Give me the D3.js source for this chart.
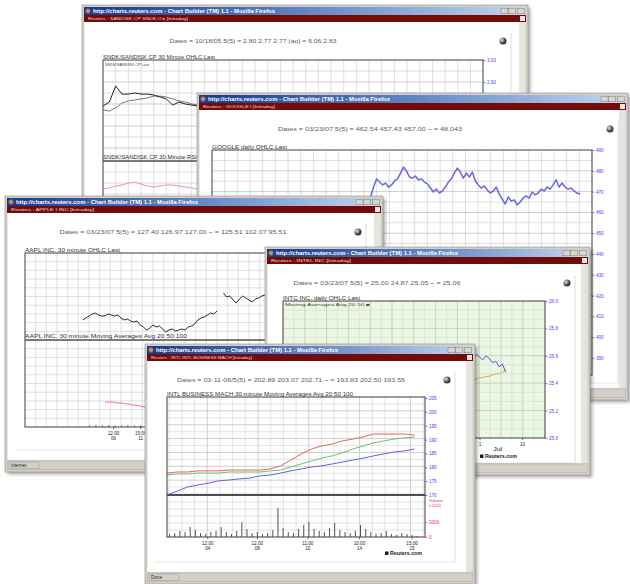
<!DOCTYPE html>
<html>
<head>
<meta charset="utf-8">
<script src="https://cdn.jsdelivr.net/npm/d3@7"></script>
<style>
body { margin: 0; background: #fff; }
svg { display: block; font-family: "Liberation Sans", Arial, sans-serif; }
</style>
</head>
<body>
<svg id="chart" width="630" height="584"></svg>
<script>
const titleText = "http://charts.reuters.com - Chart Builder (TM) 1.1 - Mozilla Firefox";

// SANDISK window (back)
const sndkPriceTicks = [3.0, 2.9, 2.8, 2.7, 2.6];
const sndkLast = [2.791, 2.809, 2.882, 2.845, 2.845, 2.850, 2.845, 2.845, 2.841, 2.832, 2.823, 2.795, 2.809, 2.800, 2.795, 2.791, 2.786, 2.782, 2.777];
const sndkAvg = [2.773, 2.768, 2.782, 2.805, 2.814, 2.818, 2.823, 2.827, 2.836, 2.836, 2.832, 2.823, 2.814, 2.809, 2.800, 2.795, 2.795, 2.791, 2.791];
const sndkRsi = [72, 73, 75, 76, 78, 79, 77, 75, 74, 75, 76, 76, 75, 74, 73, 72, 71];
const sndkRsiTicks = [100, 70, 30, 0];

// GOOGLE window
const googPriceTicks = [490, 480, 470, 460, 450, 440, 430, 420, 410, 400, 390];
const googStart = 53;
const googLast = [467.4, 472.2, 476.1, 474.6, 473.2, 474.1, 472.2, 473.2, 475.1, 476.1,
  478.9, 481.8, 479.9, 477.0, 476.5, 477.5, 475.6, 476.1, 474.6, 473.7,
  471.7, 469.8, 471.2, 469.3, 470.3, 472.2, 474.6, 476.1, 478.9, 481.3,
  479.4, 476.5, 478.9, 477.0, 479.4, 475.1, 473.2, 471.7, 472.7, 470.8,
  469.3, 470.3, 472.2, 468.8, 466.4, 464.0, 467.4, 465.5, 466.0, 463.6,
  465.0, 466.9, 467.9, 466.9, 469.8, 468.4, 469.3, 471.2, 470.3, 472.2,
  471.2, 473.2, 475.6, 472.2, 474.1, 472.2, 471.2, 471.7, 470.3, 469.3, 468.8];

// APPLE window
const aaplStart = 18;
const aaplLast = [93.3, 93.5, 93.7, 93.9, 94.0, 93.8, 93.7, 93.7, 93.9, 93.8, 93.7, 93.8, 93.5, 93.3, 93.4,
  93.2, 93.1, 93.2, 92.8, 92.6, 92.3, 92.5, 92.8, 92.6, 92.7, 92.4, 92.1, 92.3, 92.4, 92.2,
  92.3, 92.4, 92.3, 92.6, 92.7, 92.9, 93.3, 93.5, 93.6, 93.8, 94.0, 93.9, 94.2, null,
  96.0, 95.6, 95.7, 95.3, 95.0, 95.4, 95.7, 95.5, 95.3, 95.1, 95.4, 95.5, 95.7, 95.8, 95.9];
const aaplAvgStart = 25;
const aaplAvg = [85.1, 85.1, 85.1, 85.05, 85.0, 85.0, 84.95, 84.9, 84.85, 84.8, 84.75, 84.7, 84.6, 84.5, 84.45, 84.4];
const aaplTickIdx = [27.5, 36];
const aaplTickTime = ["12:00", "15:00"];
const aaplTickDay = ["06", "11"];

// INTEL window
const intcPriceTicks = [26.0, 25.8, 25.6, 25.4, 25.2, 25.0];
const intcStart = 48;
const intcLast = [25.53, 25.55, 25.57, 25.55, 25.58, 25.56, 25.58, 25.55, 25.58, 25.60, 25.58, 25.61, 25.59, 25.57, 25.60, 25.58, 25.55, 25.56, 25.52, 25.54, 25.48];
const intcAvgStart = 40;
const intcAvg = [25.34, 25.34, 25.34, 25.35, 25.35, 25.36, 25.37, 25.37, 25.37, 25.38, 25.38, 25.39, 25.39, 25.39, 25.40,
  25.41, 25.42, 25.42, 25.42, 25.43, 25.44, 25.44, 25.45, 25.45, 25.46, 25.47, 25.47, 25.48, 25.50];
const intcTickIdx = [60, 73];
const intcTickDay = ["1", "10"];

// IBM window (front)
const ibmPriceTicks = [205, 200, 195, 190, 185, 180, 175, 170];
const ibmAvg20 = [177.9, 178.3, 178.3, 178.7, 178.7, 178.7, 179.0, 179.0, 179.0, 179.0, 179.4, 180.5, 182.6, 184.8, 186.6, 187.7, 188.4, 189.5, 190.2, 190.9, 192.0, 192.0, 192.0, 192.0, 191.6];
const ibmAvg50 = [177.2, 177.6, 177.6, 177.9, 177.9, 177.9, 178.3, 178.3, 178.3, 178.3, 178.7, 179.0, 180.1, 181.2, 182.3, 183.3, 184.1, 185.2, 186.6, 187.7, 188.8, 189.5, 190.2, 190.6, 190.9];
const ibmAvg100 = [170.0, 171.4, 172.9, 173.6, 174.3, 175.1, 175.4, 175.8, 176.1, 176.9, 177.2, 177.9, 178.7, 179.4, 180.1, 180.5, 181.2, 181.9, 182.6, 183.3, 184.1, 184.8, 185.5, 185.9, 186.6];
const ibmVolume = [400, 530, 800, 670, 1330, 930, 530, 400, 670, 800, 1330, 670, 400, 800, 2000, 1070, 530, 670, 400, 530,
  930, 3870, 1200, 670, 530, 1070, 1600, 2000, 1070, 800, 670, 1200, 1870, 930, 670, 530, 800, 1600, 1070, 670,
  400, 530, 800, 400, 270, 530, 400, 270, 130, 0];
const ibmVolTicks = [2000, 0];
const ibmTickIdx = [3.9, 8.7, 13.6, 18.6, 23.7];
const ibmTickTime = ["12:00", "12:00", "11:00", "10:00", "15:00"];
const ibmTickDay = ["04", "08", "10", "14", "15"];

const svg = d3.select("#chart");
const defs = svg.append("defs");
defs.append("filter").attr("id", "soft").attr("x", "-5%").attr("y", "-5%").attr("width", "115%").attr("height", "115%")
  .append("feGaussianBlur").attr("stdDeviation", 1.8);
const tg = defs.append("linearGradient").attr("id", "titleGrad");
tg.append("stop").attr("offset", "0%").attr("stop-color", "#17398a");
tg.append("stop").attr("offset", "50%").attr("stop-color", "#5f86c4");
tg.append("stop").attr("offset", "100%").attr("stop-color", "#c4d6ef");
const gg = defs.append("radialGradient").attr("id", "globeGrad").attr("cx", "35%").attr("cy", "35%");
gg.append("stop").attr("offset", "0%").attr("stop-color", "#e8e8e8");
gg.append("stop").attr("offset", "100%").attr("stop-color", "#3a3a3a");

function label(g, x, y, str, len, size = 4.8, color = "#333") {
  const t = g.append("text").attr("x", x).attr("y", y).attr("font-size", size).attr("fill", color).text(str);
  if (len) t.attr("textLength", len).attr("lengthAdjust", "spacingAndGlyphs");
  return t;
}

function drawWindow(w) {
  // soft shadow
  svg.append("rect").attr("x", w.x + 2.5).attr("y", w.y + 2.5).attr("width", w.w).attr("height", w.h)
    .attr("fill", "#000").attr("opacity", 0.3).attr("filter", "url(#soft)");
  const g = svg.append("g").attr("transform", `translate(${w.x},${w.y})`);
  g.append("rect").attr("width", w.w).attr("height", w.h).attr("fill", "#d4d0c8")
    .attr("stroke", "#8c8c8c").attr("stroke-width", 0.6);
  const bodyBottom = w.status != null ? w.h - 12 : w.h - 3;
  g.append("rect").attr("x", 2.5).attr("y", 17).attr("width", w.w - 11).attr("height", bodyBottom - 17).attr("fill", "#fff");
  g.append("rect").attr("x", w.w - 8.5).attr("y", 17).attr("width", 6).attr("height", bodyBottom - 17).attr("fill", "#e6e4de");

  // title bar
  g.append("rect").attr("x", 2).attr("y", 2).attr("width", w.w - 4).attr("height", 8).attr("fill", "url(#titleGrad)");
  g.append("circle").attr("cx", 6).attr("cy", 6).attr("r", 2.4).attr("fill", "#e98b2a").attr("stroke", "#3b5fb5").attr("stroke-width", 0.8);
  label(g, 11, 8.2, titleText, 182, 5, "#fff").attr("font-weight", "bold");
  [27, 19.5, 10.5].forEach(off => g.append("rect").attr("x", w.w - off).attr("y", 3.2).attr("width", 7).attr("height", 5.6)
    .attr("fill", "#d8d5ce").attr("stroke", "#6b6b6b").attr("stroke-width", 0.4));

  // red site menu
  g.append("rect").attr("x", 2).attr("y", 10).attr("width", w.w - 4).attr("height", 7).attr("fill", "#740b0b");
  label(g, 6, 15.2, w.menu, w.menuLen, 4.4, "#f2d8d8");
  g.append("rect").attr("x", w.w - 8).attr("y", 11).attr("width", 5).attr("height", 5).attr("fill", "#f2e6e6");

  // quote line and globe
  label(g, w.datesX - w.datesLen / 2, 38, w.dates, w.datesLen, 5, "#5a5a72");
  g.append("circle").attr("cx", w.globeX).attr("cy", 36).attr("r", 3.5).attr("fill", "url(#globeGrad)");
  g.append("line").attr("x1", w.globeX + 8).attr("x2", w.globeX + 8).attr("y1", 28).attr("y2", w.dotY || bodyBottom)
    .attr("stroke", "#c8c8c8").attr("stroke-width", 0.6);
  if (w.dotY) {
    g.append("line").attr("x1", 12).attr("x2", w.globeX + 8).attr("y1", w.dotY).attr("y2", w.dotY)
      .attr("stroke", "#b4b4b4").attr("stroke-width", 0.6).attr("stroke-dasharray", "1,1");
  }
  if (w.status != null) {
    g.append("rect").attr("x", 2.5).attr("y", w.h - 11).attr("width", w.w - 5).attr("height", 8.5).attr("fill", "#d4d0c8")
      .attr("stroke", "#a8a49c").attr("stroke-width", 0.4);
    if (w.status) {
      g.append("rect").attr("x", 4).attr("y", w.h - 10).attr("width", 30).attr("height", 6.5)
        .attr("fill", "none").attr("stroke", "#888").attr("stroke-width", 0.4);
      label(g, 6, w.h - 5, w.status, null, 4.6, "#222");
    }
  }
  return g;
}

function pane(g, o) {
  const x = d3.scaleLinear().domain(o.xDomain).range([o.x0, o.x1]);
  const y = d3.scaleLinear().domain(o.yDomain).range([o.y1, o.y0]);
  g.append("rect").attr("x", o.x0).attr("y", o.y0).attr("width", o.x1 - o.x0).attr("height", o.y1 - o.y0).attr("fill", o.bg || "#fff");
  const minor = o.minor || "#c4c4c4", major = o.major || "#a2a2a2";
  const isMajor = (i, m, off) => m && (((i - off) % m) + m) % m === 0;
  const vs = d3.range(o.vStart || o.x0 + o.vStep, o.x1 - 0.5, o.vStep);
  g.append("g").selectAll("line").data(vs).join("line")
    .attr("x1", d => d).attr("x2", d => d).attr("y1", o.y0).attr("y2", o.y1)
    .attr("stroke", (d, i) => isMajor(i, o.vMajor, o.vOff || 0) ? major : minor)
    .attr("stroke-width", 0.55);
  const hs = d3.range(o.y0 + o.hStep, o.y1 - 0.5, o.hStep);
  g.append("g").selectAll("line").data(hs).join("line")
    .attr("x1", o.x0).attr("x2", o.x1).attr("y1", d => d).attr("y2", d => d)
    .attr("stroke", (d, i) => isMajor(i + 1, o.hMajor, 0) ? major : minor)
    .attr("stroke-width", 0.55);
  return { x, y };
}

function box(g, x0, x1, y0, y1, color = "#4e4e4e", width = 1.1) {
  g.append("rect").attr("x", x0).attr("y", y0).attr("width", x1 - x0).attr("height", y1 - y0)
    .attr("fill", "none").attr("stroke", color).attr("stroke-width", width);
}

function drawLine(g, p, start, values, color, width) {
  const path = d3.line()
    .defined(d => d != null)
    .x((d, i) => p.x(start + i))
    .y(d => p.y(d));
  g.append("path").datum(values).attr("d", path).attr("fill", "none")
    .attr("stroke", color).attr("stroke-width", width).attr("stroke-linejoin", "round");
}

function yLabels(g, scale, x, ticks, color, fmt) {
  g.append("g").attr("transform", `translate(${x},0)`)
    .call(d3.axisRight(scale).tickValues(ticks).tickSize(2.5).tickPadding(1.5).tickFormat(fmt))
    .call(a => {
      a.select(".domain").remove();
      a.attr("font-family", null).attr("font-size", null);
      a.selectAll("line").attr("stroke", color).attr("stroke-width", 0.7);
      a.selectAll("text").attr("fill", color).attr("font-size", 4.6);
    });
}

function xLabels(g, scale, y, ticks, top, bottom) {
  const a = g.append("g").attr("transform", `translate(0,${y})`)
    .call(d3.axisBottom(scale).tickValues(ticks).tickSize(2.2).tickFormat(""));
  a.select(".domain").remove();
  a.attr("font-family", null).attr("font-size", null);
  a.selectAll(".tick line").attr("stroke", "#333").attr("stroke-width", 0.7);
  a.selectAll(".tick").append("text").attr("y", 7.5).attr("text-anchor", "middle").attr("font-size", 4.6)
    .attr("fill", "#222").text((d, i) => top[i]);
  if (bottom) {
    a.selectAll(".tick").append("text").attr("y", 13).attr("text-anchor", "middle").attr("font-size", 4.6)
      .attr("fill", "#222").text((d, i) => bottom[i]);
  }
  return a;
}

function legend(g, x, y) {
  g.append("rect").attr("x", x).attr("y", y - 3.5).attr("width", 3.5).attr("height", 3.5).attr("fill", "#222");
  label(g, x + 5, y, "Reuters.com", 32, 4.6, "#222").attr("font-weight", "bold");
}

const wins = [
  { x: 82, y: 5, w: 446, h: 260, menu: "Reuters  :  SANDISK CP  SNDK.O  \u25B8  [Intraday]", menuLen: 100,
    dates: "Dates = 10/18/05 5(5) = 2.80 2.77 2.77 (ao) = 6.06 2.83", datesX: 171, datesLen: 167, globeX: 421 },
  { x: 197, y: 93, w: 431, h: 307, menu: "Reuters  :  GOOGLE I  [Intraday]", menuLen: 72,
    dates: "Dates = 03/23/07 5(5) = 462.54 457.43 457.00 ~ = 48.043", datesX: 173, datesLen: 184, globeX: 413, status: "", dotY: 290 },
  { x: 5, y: 196, w: 378, h: 276, menu: "Reuters  :  APPLE I  INC  [Intraday]", menuLen: 83,
    dates: "Dates = 03/23/07 5(5) = 127.40 126.97 127.00 ~ = 125.51 102.07 95.51", datesX: 168, datesLen: 227, globeX: 353, status: "Internet", dotY: 254 },
  { x: 265, y: 247, w: 325, h: 228, menu: "Reuters  :  INTEL  INC  [Intraday]", menuLen: 80,
    dates: "Dates = 03/23/07 5(5) = 25.00 24.87 25.05 ~ = 25.06", datesX: 112, datesLen: 167, globeX: 302, status: "", dotY: 216 },
  { x: 145, y: 344, w: 330, h: 240, menu: "Reuters  :  INTL  INTL BUSINESS MACH  [Intraday]", menuLen: 101,
    dates: "Dates = 03-11-06/5(5) = 202.89 203.07 202.71 ~ = 193.83 202.50 193.55", datesX: 146, datesLen: 228, globeX: 302, status: "Done", dotY: 218 }
];

// ---- SANDISK ----
function drawSndk(g) {
  const up = pane(g, { x0: 21, x1: 401, y0: 55, y1: 156, xDomain: [0, 60], yDomain: [2.541, 3.0], vStep: 12.67, hStep: 11, hMajor: 2 });
  drawLine(g, up, 0, sndkAvg, "#6a6a6a", 0.9);
  drawLine(g, up, 0, sndkLast, "#222", 1);
  label(g, 23, 60.5, "SNDK/SANDISK CP  Last", 44, 4, "#444");
  label(g, 21, 154, "SNDK/SANDISK CP   30 Minute RSI", 94, 4.6);
  const lo = pane(g, { x0: 21, x1: 401, y0: 156, y1: 256, xDomain: [0, 60], yDomain: [0, 100], vStep: 12.67, hStep: 11 });
  drawLine(g, lo, 0, sndkRsi, "#ec8a8a", 0.9);
  box(g, 21, 401, 55, 256);
  g.append("line").attr("x1", 21).attr("x2", 401).attr("y1", 156).attr("y2", 156).attr("stroke", "#4e4e4e").attr("stroke-width", 1.3);
  yLabels(g, up.y, 401, sndkPriceTicks, "#4646ee", d3.format(".2f"));
  yLabels(g, lo.y, 401, sndkRsiTicks, "#4646ee", d3.format("d"));
  label(g, 21, 53.5, "SNDK/SANDISK CP   30 Minute OHLC Last", 112);
}

// ---- GOOGLE ----
function drawGoog(g) {
  const p = pane(g, { x0: 15, x1: 395, y0: 57, y1: 282, xDomain: [0, 127], yDomain: [381.8, 490], vStep: 12.67, hStep: 10.4, hMajor: 2 });
  drawLine(g, p, googStart, googLast, "#6666e4", 1.5);
  box(g, 15, 395, 57, 282);
  yLabels(g, p.y, 395, googPriceTicks, "#4646ee", d3.format("d"));
  label(g, 15, 55.5, "GOOGLE   daily OHLC Last", 75);
}

// ---- APPLE ----
function drawAapl(g) {
  const up = pane(g, { x0: 20, x1: 340, y0: 57, y1: 144, xDomain: [0, 100], yDomain: [91.3, 100], vStep: 10.67, hStep: 8.7 });
  drawLine(g, up, aaplStart, aaplLast, "#2a2a2a", 1);
  const lo = pane(g, { x0: 20, x1: 340, y0: 144, y1: 231, xDomain: [0, 100], yDomain: [82.6, 91.3], vStep: 10.67, hStep: 8.7 });
  drawLine(g, lo, aaplAvgStart, aaplAvg, "#e26a6a", 0.9);
  label(g, 20, 142, "AAPL INC.   30 minute Moving Averages   Avg  20  50  100", 162, 4.6);
  box(g, 20, 340, 57, 231);
  g.append("line").attr("x1", 20).attr("x2", 340).attr("y1", 144).attr("y2", 144).attr("stroke", "#4e4e4e").attr("stroke-width", 1.5);
  const minorTicks = g.append("g").attr("transform", "translate(0,231)")
    .call(d3.axisBottom(lo.x).tickValues(d3.range(20, 42, 2)).tickSize(-2).tickFormat(""));
  minorTicks.select(".domain").remove();
  minorTicks.selectAll("line").attr("stroke", "#333").attr("stroke-width", 0.6);
  xLabels(g, lo.x, 231, aaplTickIdx, aaplTickTime, aaplTickDay);
  label(g, 20, 55.5, "AAPL INC.   30 minute OHLC Last", 95);
}

// ---- INTEL ----
function drawIntc(g) {
  const p = pane(g, { x0: 18, x1: 280, y0: 54, y1: 191, xDomain: [0, 80], yDomain: [25.0, 26.0], bg: "#ebf6e4",
    vStep: 10.9, vMajor: 2, vOff: 1, hStep: 9.13, hMajor: 3, minor: "#cbdcc2", major: "#a9bca0" });
  drawLine(g, p, intcAvgStart, intcAvg, "#e2a455", 1);
  drawLine(g, p, intcStart, intcLast, "#5656e0", 1);
  box(g, 18, 280, 54, 191);
  yLabels(g, p.y, 280, intcPriceTicks, "#4646ee", d3.format(".1f"));
  xLabels(g, p.x, 191, intcTickIdx, intcTickDay);
  label(g, p.x(66) - 6, 204, "Jul", 9, 4.6, "#222");
  label(g, 18, 52.5, "INTC INC.   daily OHLC Last", 77);
  label(g, 20, 59, "Moving Averages   Avg  20  50  \u25A0", 85, 4, "#444");
  legend(g, 215, 211);
}

// ---- IBM ----
function drawIbm(g) {
  const grid = { x0: 22, x1: 280, xDomain: [0, 25], vStart: 24.1, vStep: 12.7, vMajor: 4, vOff: 3, minor: "#d0d0d0", major: "#a8a8a8" };
  const up = pane(g, Object.assign({}, grid, { y0: 53, y1: 151, yDomain: [170, 205.36], hStep: 6.93, hMajor: 2 }));
  drawLine(g, up, 0, ibmAvg100, "#5a66e6", 1);
  drawLine(g, up, 0, ibmAvg50, "#6cc06c", 1);
  drawLine(g, up, 0, ibmAvg20, "#e46464", 1);
  const lo = pane(g, Object.assign({}, grid, { y0: 151, y1: 193, yDomain: [0, 5600], hStep: 7 }));
  const band = d3.scaleBand().domain(d3.range(ibmVolume.length)).range([22, 280]);
  g.append("g").selectAll("rect").data(ibmVolume).join("rect")
    .attr("x", (d, i) => band(i) + band.bandwidth() / 2 - 0.5).attr("width", 1)
    .attr("y", d => lo.y(d)).attr("height", d => 193 - lo.y(d)).attr("fill", "#555");
  box(g, 22, 280, 53, 193);
  g.append("line").attr("x1", 22).attr("x2", 280).attr("y1", 151).attr("y2", 151).attr("stroke", "#4e4e4e").attr("stroke-width", 1.8);
  yLabels(g, up.y, 280, ibmPriceTicks, "#4646ee", d3.format("d"));
  yLabels(g, lo.y, 280, ibmVolTicks, "#e03a3a", d3.format("d"));
  label(g, 284, 158, "Volume", 14, 3.8, "#e03a3a");
  label(g, 284, 162.5, "x 1000", 12, 3.8, "#e03a3a");
  xLabels(g, lo.x, 193, ibmTickIdx, ibmTickTime, ibmTickDay);
  label(g, 22, 51.5, "INTL BUSINESS MACH   30 minute Moving Averages   Avg  20  50  100", 186);
  legend(g, 240, 211);
}

const drawers = [drawSndk, drawGoog, drawAapl, drawIntc, drawIbm];
wins.forEach((w, i) => {
  const g = drawWindow(w);
  drawers[i](g);
});
</script>
</body>
</html>
